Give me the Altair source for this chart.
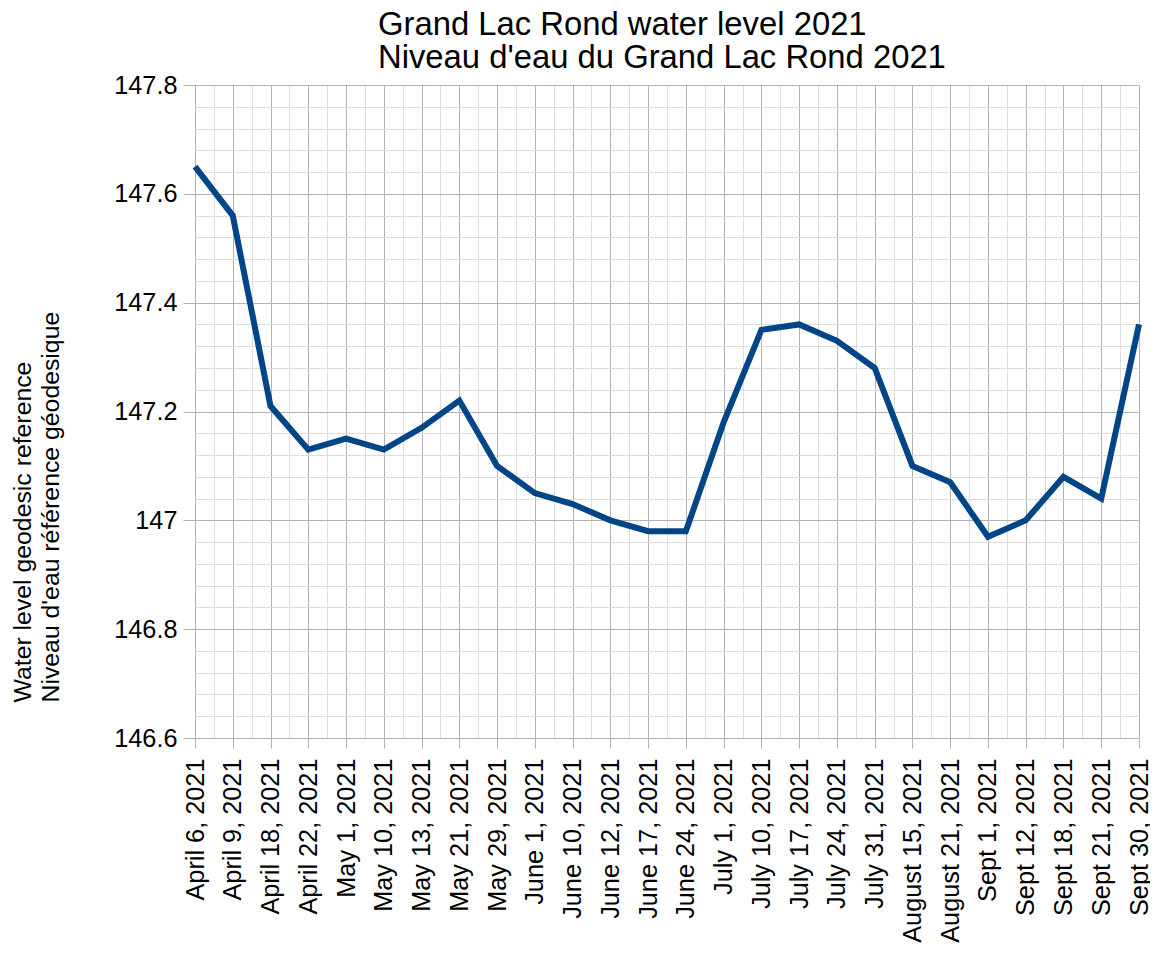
import altair as alt
import pandas as pd

dates = [
    "April 6, 2021", "April 9, 2021", "April 18, 2021", "April 22, 2021",
    "May 1, 2021", "May 10, 2021", "May 13, 2021", "May 21, 2021",
    "May 29, 2021", "June 1, 2021", "June 10, 2021", "June 12, 2021",
    "June 17, 2021", "June 24, 2021", "July 1, 2021", "July 10, 2021",
    "July 17, 2021", "July 24, 2021", "July 31, 2021", "August 15, 2021",
    "August 21, 2021", "Sept 1, 2021", "Sept 12, 2021", "Sept 18, 2021",
    "Sept 21, 2021", "Sept 30, 2021",
]
levels = [
    147.65, 147.56, 147.21, 147.13, 147.15, 147.13, 147.17, 147.22,
    147.10, 147.05, 147.03, 147.00, 146.98, 146.98, 147.18, 147.35,
    147.36, 147.33, 147.28, 147.10, 147.07, 146.97, 147.00, 147.08,
    147.04, 147.36,
]
y_min, y_max = 146.6, 147.8

title_lines = ["Grand Lac Rond water level 2021", "Niveau d'eau du Grand Lac Rond 2021"]
y_title_lines = ["Water level geodesic reference", "Niveau d'eau référence géodesique"]

df = pd.DataFrame({"idx": list(range(len(dates))), "date": dates, "level": levels})

FONT = "Liberation Sans"
MAJOR = "#b3b3b3"
MINOR = "#dddddd"

n = len(dates)
x_vals = [i / 2 for i in range(2 * (n - 1) + 1)]
y_vals = [round(y_min + i * 0.04, 2) for i in range(int(round((y_max - y_min) / 0.04)) + 1)]

label_array = "[" + ",".join("'" + d + "'" for d in dates) + "]"
x_major = "datum.value % 1 == 0"
y_major = "abs(datum.value*5 - round(datum.value*5)) < 0.001"

x_axis = alt.Axis(
    values=x_vals,
    labelExpr=f"{x_major} ? {label_array}[datum.value] : ''",
    labelAngle=270,
    labelFont=FONT,
    labelFontSize=25.3,
    labelColor="black",
    labelPadding=10,
    labelOverlap=False,
    labelFlush=False,
    labelBound=False,
    labelLimit=0,
    tickSize=10,
    tickColor=MAJOR,
    tickOpacity={"condition": {"test": x_major, "value": 1}, "value": 0},
    grid=True,
    gridColor={"condition": {"test": x_major, "value": MAJOR}, "value": MINOR},
    gridWidth=1,
    domain=False,
    title=None,
)

y_axis = alt.Axis(
    values=y_vals,
    labelExpr=f"{y_major} ? '' + round(datum.value*10)/10 : ''",
    labelFont=FONT,
    labelFontSize=25.3,
    labelColor="black",
    labelPadding=6,
    labelOverlap=False,
    labelFlush=False,
    labelLimit=0,
    tickSize=12,
    tickColor=MAJOR,
    tickOpacity={"condition": {"test": y_major, "value": 1}, "value": 0},
    grid=True,
    gridColor={"condition": {"test": y_major, "value": MAJOR}, "value": MINOR},
    gridWidth=1,
    domain=False,
    title=y_title_lines,
    titleFont=FONT,
    titleFontSize=24.8,
    titleFontWeight="normal",
    titleColor="black",
    titleAngle=270,
    titleAlign="left",
    titleBaseline="alphabetic",
    titleLineHeight=28,
    titleX=-165,
    titleY=617,
)

chart = (
    alt.Chart(df)
    .mark_line(color="#004586", strokeWidth=6, strokeJoin="miter")
    .encode(
        x=alt.X("idx:Q", axis=x_axis, scale=alt.Scale(domain=[0, n - 1], nice=False, zero=False)),
        y=alt.Y("level:Q", axis=y_axis, scale=alt.Scale(domain=[y_min, y_max], nice=False, zero=False)),
        order="idx:Q",
    )
    .properties(
        width=944,
        height=653,
        autosize=alt.AutoSizeParams(type="none"),
        padding={"left": 187, "top": 77, "right": 11, "bottom": 207},
        title=alt.TitleParams(
            text=title_lines,
            anchor="start",
            frame="group",
            dx=183,
            dy=35,
            offset=7,
            font=FONT,
            fontSize=32.8,
            fontWeight="normal",
            color="black",
            lineHeight=33,
            baseline="alphabetic",
        ),
        background="white",
    )
    .configure_view(strokeWidth=0)
)

chart.save("out.html", embed_options={"renderer": "svg", "actions": False})
